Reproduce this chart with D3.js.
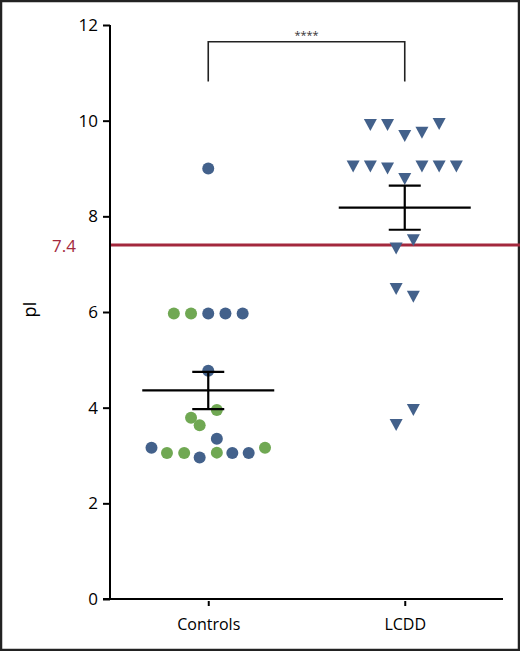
<!DOCTYPE html>
<html>
<head>
<meta charset="utf-8">
<script src="https://cdn.jsdelivr.net/npm/d3@7"></script>
<style>
  body { margin: 0; background: #fff; }
  svg { display: block; font-family: "Open Sans", "DejaVu Sans", sans-serif; }
</style>
</head>
<body>
<script>
// groups on the x axis
const groups = ["Controls", "LCDD"]
const yTicks = [0, 2, 4, 6, 8, 10, 12]
const cutoff = 7.4

// Controls: pI values, swarm slot (in dot widths) and colour group
const ctrlValues = [9.0, 5.97, 5.97, 5.97, 5.97, 5.97, 4.77, 3.95, 3.79, 3.63, 3.35, 3.16, 3.05, 3.05, 2.96, 3.06, 3.05, 3.05, 3.16]
const ctrlSlot   = [0, -2, -1, 0, 1, 2, 0, 0.5, -1, -0.5, 0.5, -3.3, -2.4, -1.4, -0.5, 0.5, 1.4, 2.35, 3.3]
const ctrlKind   = ["b", "g", "g", "b", "b", "b", "b", "g", "g", "g", "b", "b", "g", "g", "b", "g", "b", "b", "g"]

// LCDD: pI values and swarm slot
const lcddValues = [9.91, 9.91, 9.68, 9.75, 9.93, 9.04, 9.04, 9.0, 8.78, 9.04, 9.04, 9.04, 7.5, 7.33, 6.48, 6.32, 3.95, 3.64]
const lcddSlot   = [-2, -1, 0, 1, 2, -3, -2, -1, 0, 1, 2, 3, 0.5, -0.5, -0.5, 0.5, 0.5, -0.5]

// mean and SEM per group
const means = [4.36, 8.18]
const sems = [0.39, 0.46]

const width = 520, height = 651
const blue = "#43618b", green = "#70a853", red = "#a3283d"

const svg = d3.select("body").append("svg")
  .attr("width", width)
  .attr("height", height)

svg.append("rect")
  .attr("x", 1).attr("y", 1)
  .attr("width", width - 2).attr("height", height - 2)
  .attr("fill", "#fff")
  .attr("stroke", "#222")
  .attr("stroke-width", 2.5)

const x = d3.scalePoint().domain(groups).range([110, 503]).padding(0.5)
const y = d3.scaleLinear().domain([0, 12]).range([599, 25])
const slot = d3.scaleLinear().domain([0, 1]).range([0, 17.2])

// y axis
const yAxis = svg.append("g")
  .attr("transform", "translate(110,0)")
  .call(d3.axisLeft(y).tickValues(yTicks).tickSize(7).tickPadding(5))
yAxis.select(".domain").attr("stroke", "#000").attr("stroke-width", 2).attr("d", "M0," + y(12) + "V" + y(0))
yAxis.selectAll(".tick line").attr("stroke", "#000").attr("stroke-width", 2)
yAxis.selectAll("text").attr("font-size", 17).attr("fill", "#000").attr("font-family", "Open Sans, sans-serif")

// x axis
const xAxis = svg.append("g")
  .attr("transform", "translate(0," + y(0) + ")")
  .call(d3.axisBottom(x).tickSize(7).tickPadding(13))
xAxis.select(".domain").attr("stroke", "#000").attr("stroke-width", 2).attr("d", "M103,0H503")
xAxis.selectAll(".tick line").attr("stroke", "#000").attr("stroke-width", 2).attr("y1", 2)
xAxis.selectAll("text").attr("font-size", 16).attr("fill", "#000").attr("font-family", "Open Sans, sans-serif")

svg.append("text")
  .attr("transform", "translate(36," + y(6.05) + ") rotate(-90)")
  .attr("text-anchor", "middle")
  .attr("font-size", 18)
  .text("pI")

// cut-off line
svg.append("line")
  .attr("x1", 111).attr("x2", 520)
  .attr("y1", y(cutoff)).attr("y2", y(cutoff))
  .attr("stroke", red).attr("stroke-width", 3)
svg.append("text")
  .attr("x", 76).attr("y", y(cutoff) + 7)
  .attr("text-anchor", "end")
  .attr("font-size", 17)
  .attr("fill", red)
  .text(cutoff)

// controls dots
svg.append("g").selectAll("circle")
  .data(ctrlValues)
  .join("circle")
  .attr("cx", (d, i) => x("Controls") + slot(ctrlSlot[i]))
  .attr("cy", d => y(d))
  .attr("r", 6)
  .attr("fill", (d, i) => ctrlKind[i] === "b" ? blue : green)

// LCDD triangles (pointing down)
const tri = "M-6.5,-6H6.5L0,6Z"
svg.append("g").selectAll("path")
  .data(lcddValues)
  .join("path")
  .attr("d", tri)
  .attr("transform", (d, i) => "translate(" + (x("LCDD") + slot(lcddSlot[i])) + "," + y(d) + ")")
  .attr("fill", blue)

// mean and SEM bars
const bars = svg.append("g").attr("stroke", "#000").attr("stroke-width", 2.2)
groups.forEach((g, i) => {
  const cx = x(g)
  bars.append("line").attr("x1", cx - 66).attr("x2", cx + 66).attr("y1", y(means[i])).attr("y2", y(means[i]))
  bars.append("line").attr("x1", cx).attr("x2", cx).attr("y1", y(means[i] + sems[i])).attr("y2", y(means[i] - sems[i]))
  bars.append("line").attr("x1", cx - 16).attr("x2", cx + 16).attr("y1", y(means[i] + sems[i])).attr("y2", y(means[i] + sems[i]))
  bars.append("line").attr("x1", cx - 16).attr("x2", cx + 16).attr("y1", y(means[i] - sems[i])).attr("y2", y(means[i] - sems[i]))
})

// significance bracket
const bTop = y(11.65), bBottom = y(10.82)
svg.append("path")
  .attr("d", "M" + x("Controls") + "," + bBottom + "V" + bTop + "H" + x("LCDD") + "V" + bBottom)
  .attr("fill", "none")
  .attr("stroke", "#222")
  .attr("stroke-width", 1.6)
svg.append("text")
  .attr("x", (x("Controls") + x("LCDD")) / 2)
  .attr("y", bTop - 3)
  .attr("text-anchor", "middle")
  .attr("font-size", 11)
  .attr("fill", "#333")
  .text("****")
</script>
</body>
</html>
